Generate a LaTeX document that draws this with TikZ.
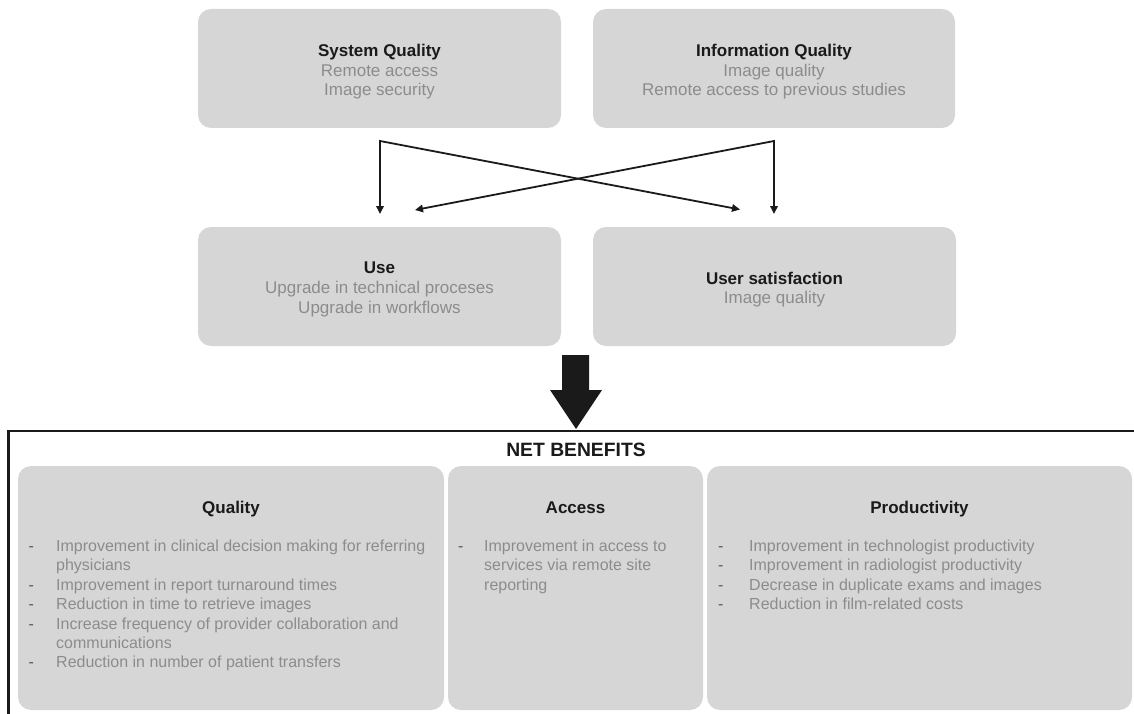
\documentclass[tikz,border=0pt]{standalone}
\usepackage{fontspec}
\setmainfont{Liberation Sans}
\usetikzlibrary{arrows.meta}
\definecolor{boxfill}{HTML}{D6D6D6}
\definecolor{subgray}{HTML}{8C8C8C}
\definecolor{dashgray}{HTML}{585858}
\definecolor{titleblack}{HTML}{1A1A1A}
\newcommand{\ttl}[1]{{\color{titleblack}\bfseries #1}}
\newcommand{\bigfont}{\fontsize{17}{19.6}\selectfont}
\newcommand{\listfont}{\fontsize{16}{19.4}\selectfont}
\newcommand{\dsh}{\leavevmode{\color{dashgray}-}}
\begin{document}
\begin{tikzpicture}[x=1pt,y=-1pt,
  box/.style={fill=boxfill, draw=none, rounded corners=13pt, inner sep=0pt},
  boxtext/.style={inner sep=0pt, align=center, font=\bigfont, text=subgray},
  conn/.style={line width=1.8pt, draw=titleblack, line join=miter,
    {Triangle[length=8pt,width=7.5pt]}-{Triangle[length=8pt,width=7.5pt]}},
  heading/.style={anchor=base, font=\bigfont\bfseries, text=titleblack},
  listtext/.style={anchor=base west, inner sep=0pt, font=\listfont, text=subgray, align=left}]
\useasboundingbox (0,0) rectangle (1134,714);

% top row
\node[box, minimum width=363pt, minimum height=119pt] (sq) at (379.5,68.5) {};
\node[box, minimum width=362pt, minimum height=119pt] (iq) at (774,68.5) {};
\node[boxtext] (sqt) at ([yshift=-3.5pt]sq.center)
  {\ttl{System Quality}\\Remote access\\Image security};
\node[boxtext] (iqt) at ([yshift=-3.5pt]iq.center)
  {\ttl{Information Quality}\\Image quality\\Remote access to previous studies};

% middle row
\node[box, minimum width=363pt, minimum height=119pt] (use) at (379.5,286.5) {};
\node[box, minimum width=363pt, minimum height=119pt] (us) at (774.5,286.5) {};
\node[boxtext] (uset) at ([yshift=-3pt]use.center)
  {\ttl{Use}\\Upgrade in technical proceses\\Upgrade in workflows};
\node[boxtext] (ust) at ([yshift=-3pt]us.center)
  {\ttl{User satisfaction}\\Image quality};

% crossing connectors
\coordinate (jl) at (380,141);
\coordinate (jr) at (774,141);
\coordinate (ul) at (380,214);
\coordinate (ur) at (415,210);
\coordinate (sl) at (740,209.5);
\coordinate (sr) at (774,214);
\draw[conn] (ul) -- (jl) -- (sl);
\draw[conn] (sr) -- (jr) -- (ur);

% big arrow
\fill[titleblack] (562,355) -- (589,355) -- (589,390) -- (602,390) -- (576,429)
  -- (550,390) -- (562,390) -- cycle;

% net benefits frame
\coordinate (fb) at (8.7,714);
\coordinate (fc) at (8.7,430.8);
\coordinate (fr) at (1134,430.8);
\draw[line width=2.5pt, titleblack] (fb) -- (fc) -- (fr);
\node[anchor=base, font=\fontsize{19.3}{22}\selectfont\bfseries, text=titleblack] (nb) at (576,456) {NET BENEFITS};

% bottom boxes
\node[box, minimum width=426pt, minimum height=244pt] (qb) at (231,588) {};
\node[box, minimum width=255pt, minimum height=244pt] (ab) at (575.5,588) {};
\node[box, minimum width=425pt, minimum height=244pt] (pb) at (919.5,588) {};

\node[heading] (qh) at (231,513) {Quality};
\node[heading] (ah) at (575.5,513) {Access};
\node[heading] (ph) at (919.5,513) {Productivity};

\node[listtext] (ql) at (28.5,551.5) {\begin{tabular}[t]{@{}p{27.5pt}@{}l@{}}
\dsh & Improvement in clinical decision making for referring\\
 & physicians\\
\dsh & Improvement in report turnaround times\\
\dsh & Reduction in time to retrieve images\\
\dsh & Increase frequency of provider collaboration and\\
 & communications\\
\dsh & Reduction in number of patient transfers
\end{tabular}};

\node[listtext] (al) at (458,551.5) {\begin{tabular}[t]{@{}p{26pt}@{}l@{}}
\dsh & Improvement in access to\\
 & services via remote site\\
 & reporting
\end{tabular}};

\node[listtext] (pl) at (718,551.5) {\begin{tabular}[t]{@{}p{31pt}@{}l@{}}
\dsh & Improvement in technologist productivity\\
\dsh & Improvement in radiologist productivity\\
\dsh & Decrease in duplicate exams and images\\
\dsh & Reduction in film-related costs
\end{tabular}};
\end{tikzpicture}
\end{document}
